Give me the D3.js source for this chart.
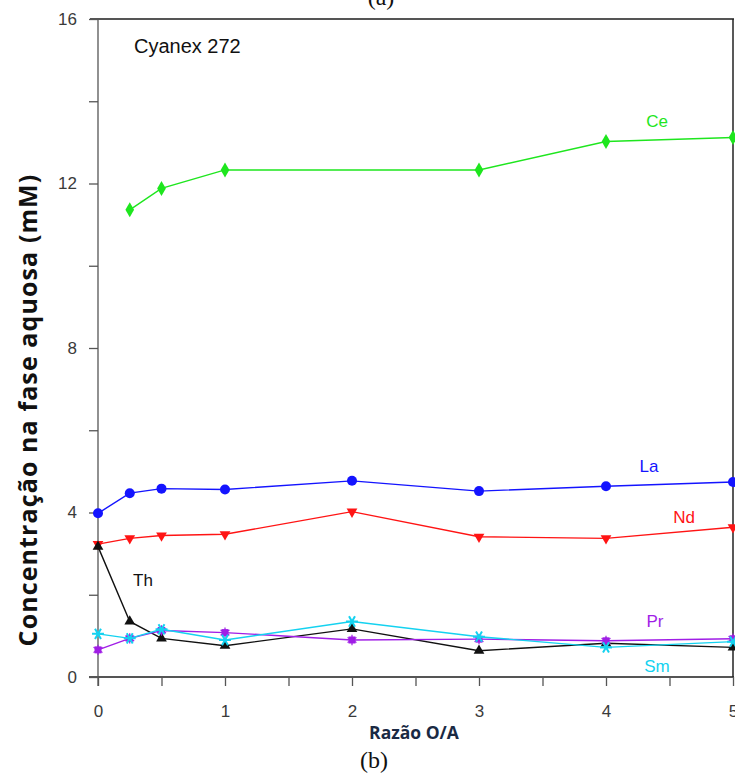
<!DOCTYPE html>
<html lang="pt">
<head>
    <meta charset="UTF-8">
    <title>Cyanex 272</title>
    <script src="https://d3js.org/d3.v7.min.js"></script>
    <style>
        body { margin: 0; background: #fff; }
    </style>
</head>
<body>
<div id="chart"></div>
<script>
    // razão O/A
    const xCe = [0.25, 0.5, 1, 3, 4, 5];
    const xAll = [0, 0.25, 0.5, 1, 2, 3, 4, 5];

    const ce = [11.36, 11.88, 12.33, 12.33, 13.02, 13.12];
    const la = [3.98, 4.47, 4.58, 4.56, 4.77, 4.52, 4.64, 4.74];
    const nd = [3.23, 3.37, 3.44, 3.47, 4.02, 3.41, 3.37, 3.64];
    const th = [3.17, 1.35, 0.94, 0.76, 1.17, 0.64, 0.82, 0.72];
    const pr = [0.66, 0.94, 1.13, 1.08, 0.9, 0.92, 0.88, 0.93];
    const sm = [1.05, 0.94, 1.16, 0.9, 1.35, 0.98, 0.72, 0.86];

    const yMajor = [0, 4, 8, 12, 16];
    const yMinor = [0, 2, 4, 6, 8, 10, 12, 14, 16];
    const xTicks = [0, 0.5, 1, 1.5, 2, 2.5, 3, 3.5, 4, 4.5, 5];

    const series = [
        {name: "Ce", xs: xCe, ys: ce, color: "#1ee61e", marker: "diamond", lx: 657, ly: 127},
        {name: "La", xs: xAll, ys: la, color: "#1414ff", marker: "circle", lx: 649, ly: 472},
        {name: "Nd", xs: xAll, ys: nd, color: "#ff1414", marker: "tri-down", lx: 684, ly: 523},
        {name: "Th", xs: xAll, ys: th, color: "#111111", marker: "tri-up", lx: 143, ly: 586},
        {name: "Pr", xs: xAll, ys: pr, color: "#a01ee6", marker: "pr", lx: 655, ly: 627},
        {name: "Sm", xs: xAll, ys: sm, color: "#14d2f0", marker: "star", lx: 657, ly: 672}
    ];

    const W = 735, H = 776;
    const m = {left: 98, right: 733, top: 19, bottom: 677};

    const svg = d3.select("#chart").append("svg")
        .attr("width", W).attr("height", H);

    const x = d3.scaleLinear().domain([0, 5]).range([m.left, m.right]);
    const y = d3.scaleLinear().domain([0, 16]).range([m.bottom, m.top]);

    const axisColor = "#555";
    const sans = "Arial, 'Liberation Sans', sans-serif";

    // y axis
    const yAxis = svg.append("g")
        .attr("transform", `translate(${m.left},0)`)
        .call(d3.axisLeft(y).tickValues(yMinor).tickSize(9).tickPadding(12)
            .tickFormat(d => yMajor.includes(d) ? d : ""));
    yAxis.select(".domain").remove();
    yAxis.selectAll(".tick line").attr("stroke", axisColor).attr("stroke-width", 1.3);
    yAxis.selectAll(".tick text").attr("font-family", sans).attr("font-size", 17).attr("fill", "#3a3a3a");

    // x axis
    const xAxis = svg.append("g")
        .attr("transform", `translate(0,${m.bottom})`)
        .call(d3.axisBottom(x).tickValues(xTicks).tickSize(9).tickPadding(19)
            .tickFormat(d => Number.isInteger(d) ? d : ""));
    xAxis.select(".domain").remove();
    xAxis.selectAll(".tick line").attr("stroke", axisColor).attr("stroke-width", 1.3);
    xAxis.selectAll(".tick text").attr("font-family", sans).attr("font-size", 17).attr("fill", "#3a3a3a");

    // frame
    svg.append("line").attr("x1", m.left).attr("x2", m.left).attr("y1", m.top).attr("y2", m.bottom + 9)
        .attr("stroke", axisColor).attr("stroke-width", 1.3);
    svg.append("line").attr("x1", m.left - 9).attr("x2", m.right + 1).attr("y1", m.bottom).attr("y2", m.bottom)
        .attr("stroke", axisColor).attr("stroke-width", 2);
    svg.append("line").attr("x1", m.left - 8).attr("x2", m.right + 1).attr("y1", m.top).attr("y2", m.top)
        .attr("stroke", axisColor).attr("stroke-width", 2);
    svg.append("line").attr("x1", m.right).attr("x2", m.right).attr("y1", m.top).attr("y2", m.bottom)
        .attr("stroke", "#222").attr("stroke-width", 1.5);

    const line = d3.line().x(d => x(d[0])).y(d => y(d[1]));

    series.forEach(s => {
        const pts = s.xs.map((v, i) => [v, s.ys[i]]);
        svg.append("path").datum(pts)
            .attr("fill", "none").attr("stroke", s.color).attr("stroke-width", 1.4)
            .attr("d", line);

        const g = svg.append("g");
        pts.forEach(p => {
            const cx = x(p[0]), cy = y(p[1]);
            if (s.marker === "diamond") {
                g.append("path").attr("d", d3.symbol(d3.symbolDiamond, 65)())
                    .attr("transform", `translate(${cx},${cy})`).attr("fill", s.color);
            } else if (s.marker === "circle") {
                g.append("circle").attr("cx", cx).attr("cy", cy).attr("r", 5).attr("fill", s.color);
            } else if (s.marker === "tri-down") {
                g.append("path").attr("d", d3.symbol(d3.symbolTriangle, 50)())
                    .attr("transform", `translate(${cx},${cy}) rotate(180)`).attr("fill", s.color);
            } else if (s.marker === "tri-up") {
                g.append("path").attr("d", d3.symbol(d3.symbolTriangle, 50)())
                    .attr("transform", `translate(${cx},${cy})`).attr("fill", s.color);
            } else if (s.marker === "pr") {
                g.append("rect").attr("x", cx - 3.5).attr("y", cy - 3.5).attr("width", 7).attr("height", 7)
                    .attr("fill", s.color);
                g.append("path").attr("d", d3.symbol(d3.symbolAsterisk, 75)())
                    .attr("transform", `translate(${cx},${cy})`).attr("stroke", s.color).attr("stroke-width", 1.2);
            } else {
                g.append("path").attr("d", d3.symbol(d3.symbolAsterisk, 100)())
                    .attr("transform", `translate(${cx},${cy}) rotate(90)`).attr("stroke", s.color).attr("stroke-width", 2);
            }
        });

        svg.append("text").attr("x", s.lx).attr("y", s.ly)
            .attr("text-anchor", "middle")
            .attr("font-family", sans)
            .attr("font-size", 17).attr("fill", s.color)
            .text(s.name);
    });

    // texts
    svg.append("text").attr("x", 134).attr("y", 53)
        .attr("font-family", sans).attr("font-size", 20).attr("fill", "#111")
        .text("Cyanex 272");

    svg.append("text")
        .attr("transform", "translate(37,410) rotate(-90)")
        .attr("text-anchor", "middle")
        .attr("font-family", "'Open Sans', 'Noto Sans', sans-serif").attr("font-weight", "bold")
        .attr("font-size", 25).attr("letter-spacing", 1.1).attr("fill", "#111")
        .text("Concentração na fase aquosa (mM)");

    svg.append("text").attr("x", 414).attr("y", 739)
        .attr("text-anchor", "middle")
        .attr("font-family", "'Open Sans', 'Noto Sans', sans-serif").attr("font-weight", "bold")
        .attr("font-size", 17.5).attr("fill", "#1a2a44")
        .text("Razão O/A");

    svg.append("text").attr("x", 374).attr("y", 768)
        .attr("text-anchor", "middle")
        .attr("font-family", "'Liberation Serif', 'DejaVu Serif', serif")
        .attr("font-size", 24).attr("fill", "#111")
        .text("(b)");

    svg.append("text").attr("x", 381).attr("y", 5)
        .attr("text-anchor", "middle")
        .attr("font-family", "'Liberation Serif', 'DejaVu Serif', serif")
        .attr("font-size", 24).attr("fill", "#111")
        .text("(a)");
</script>
</body>
</html>
